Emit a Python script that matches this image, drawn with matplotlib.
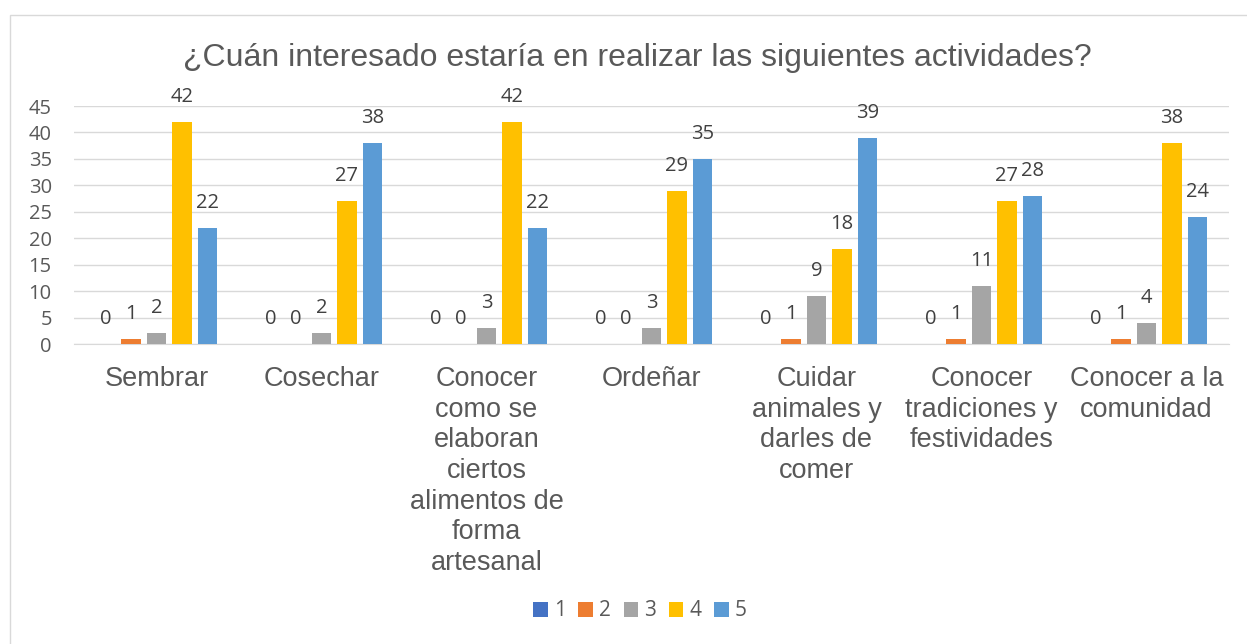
#!/usr/bin/env python3

import matplotlib
matplotlib.use('Agg')
import matplotlib.pyplot as plt
from matplotlib.patches import Rectangle
import numpy as np

categories = ['Sembrar', 'Cosechar',
              'Conocer\ncomo se\nelaboran\nciertos\nalimentos de\nforma\nartesanal',
              'Ordeñar', 'Cuidar\nanimales y\ndarles de\ncomer',
              'Conocer\ntradiciones y\nfestividades', 'Conocer a la\ncomunidad']
series_names = ['1', '2', '3', '4', '5']
s1 = [0, 0, 0, 0, 0, 0, 0]
s2 = [1, 0, 0, 0, 1, 1, 1]
s3 = [2, 2, 3, 3, 9, 11, 4]
s4 = [42, 27, 42, 29, 18, 27, 38]
s5 = [22, 38, 22, 35, 39, 28, 24]
colors = ['#4472C4', '#ED7D31', '#A5A5A5', '#FFC000', '#5B9BD5']
yticks = [0, 5, 10, 15, 20, 25, 30, 35, 40, 45]

gray = '#595959'
fig = plt.figure(figsize=(12.47, 6.44), dpi=100)
fig.patches.append(Rectangle((10 / 1247, -0.01), 1.0, 1 - 15 / 644 + 0.01,
                             transform=fig.transFigure, fill=False,
                             edgecolor='#D9D9D9', linewidth=1))
ax = fig.add_axes([74 / 1247, 1 - 344 / 644, (1229 - 74) / 1247, (344 - 106) / 644])

x = np.arange(len(categories))
slot = 0.1545
width = 0.121
for i, (vals, name) in enumerate(zip([s1, s2, s3, s4, s5], series_names)):
    pos = x + (i - 2) * slot
    ax.bar(pos, vals, width, color=colors[i], label=name, zorder=3)
    for px, v in zip(pos, vals):
        ax.annotate(str(v), (px, v), xytext=(0, 18), textcoords='offset points',
                    ha='center', va='center', fontsize=14.5,
                    color='#404040', family='Open Sans')

ax.set_xlim(-0.5, len(categories) - 0.5)
ax.set_ylim(0, 45)
ax.set_yticks(yticks)
ax.set_yticklabels([str(t) for t in yticks], fontsize=14.5, color=gray, family='Open Sans')
ax.yaxis.grid(True, color='#D9D9D9', linewidth=1, zorder=0)
ax.set_xticks(x)
ax.set_xticklabels(categories, fontsize=19.5, color=gray, family='Liberation Sans',
                   linespacing=1.23, va='top')
ax.tick_params(axis='both', length=0)
ax.tick_params(axis='x', pad=16)
ax.tick_params(axis='y', pad=16)
for side in ['top', 'right', 'left']:
    ax.spines[side].set_visible(False)
ax.spines['bottom'].set_color('#D9D9D9')

fig.text(637 / 1247, 1 - 58 / 644, '¿Cuán interesado estaría en realizar las siguientes actividades?',
         ha='center', va='center', fontsize=23, color=gray, family='Liberation Sans')

leg = fig.legend(loc='center', bbox_to_anchor=(640 / 1247, 1 - 611 / 644), ncol=5, frameon=False,
                 handlelength=0.7, handleheight=0.7, handletextpad=0.3, columnspacing=0.6,
                 prop={'family': 'Open Sans', 'size': 15})
for t in leg.get_texts():
    t.set_color(gray)

fig.savefig('out.png', dpi=100, facecolor='white')
